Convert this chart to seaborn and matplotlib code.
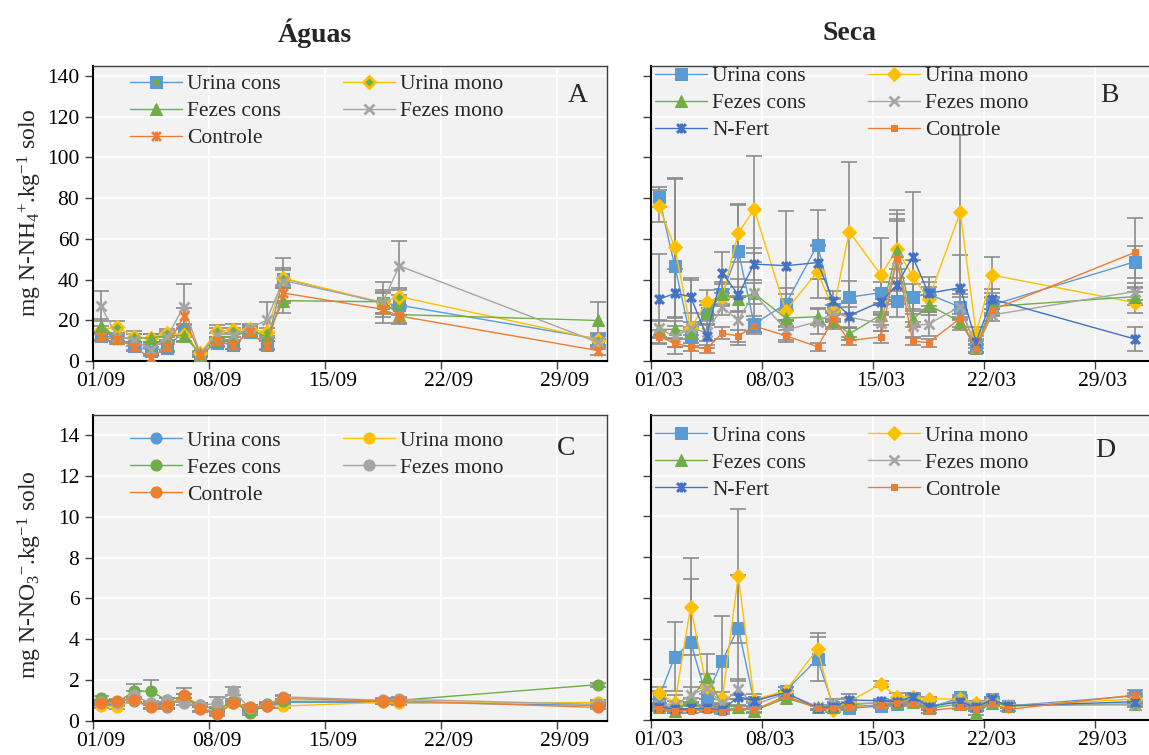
import pandas as pd
import matplotlib
matplotlib.use("Agg")
import matplotlib.pyplot as plt
import seaborn as sns
from matplotlib.path import Path

# datas de coleta
datas_aguas = ["01/09", "02/09", "03/09", "04/09", "05/09", "06/09", "07/09", "08/09",
               "09/09", "10/09", "11/09", "12/09", "18/09", "19/09", "01/10"]
datas_seca_nh4 = ["01/03", "02/03", "03/03", "04/03", "05/03", "06/03", "07/03", "09/03",
                  "11/03", "12/03", "13/03", "15/03", "16/03", "17/03", "18/03", "20/03",
                  "21/03", "22/03", "31/03"]
datas_seca_no3 = ["01/03", "02/03", "03/03", "04/03", "05/03", "06/03", "07/03", "09/03",
                  "11/03", "12/03", "13/03", "15/03", "16/03", "17/03", "18/03", "20/03",
                  "21/03", "22/03", "23/03", "31/03"]

# A - NH4 aguas
nh4_aguas = {
    "Urina cons": [12.4, 11.5, 7.3, 5.1, 6.4, 14.9, 2.9, 9.0, 8.1, 14.0, 7.8, 40.5, 28.4, 27.4, 10.8],
    "Urina mono": [15.4, 16.8, 11.6, 11.3, 13.8, 13.0, 3.8, 14.6, 15.0, 15.8, 14.1, 40.7, 28.7, 31.6, 10.5],
    "Fezes cons": [17.4, 11.3, 11.3, 11.3, 12.5, 12.5, 3.5, 11.8, 11.8, 15.4, 11.8, 29.6, 29.1, 22.8, 19.9],
    "Fezes mono": [27.1, 11.8, 10.5, 5.5, 11.8, 26.7, 3.5, 13.0, 13.0, 16.0, 20.1, 39.5, 28.7, 46.7, 9.1],
    "Controle": [11.8, 10.5, 7.1, 1.3, 7.1, 22.1, 3.0, 9.6, 8.0, 14.1, 7.6, 33.4, 25.4, 22.1, 5.1],
}
nh4_aguas_erro = {
    "Urina cons": [2, 2, 2, 2, 2, 3, 1, 2, 2, 2, 2, 4, 5, 5, 3],
    "Urina mono": [2, 3, 3, 2, 2, 3, 1, 3, 3, 2, 2, 5, 5, 4, 3],
    "Fezes cons": [3, 2, 2, 2, 2, 3, 1, 2, 2, 2, 2, 6, 6, 4, 9],
    "Fezes mono": [7.5, 2, 3, 3, 2, 11, 1, 3, 3, 2, 9, 11, 10, 12, 3],
    "Controle": [2, 2, 2, 2, 2, 4, 1, 2, 2, 2, 2, 4, 4, 4, 2],
}

# B - NH4 seca
nh4_seca = {
    "Urina cons": [80.4, 46.6, 11.6, 23.7, 32.9, 54.2, 18.2, 28.0, 57.1, 25.4, 31.3, 33.6, 29.6, 31.6, 32.9, 26.4, 7.0, 27.5, 48.7],
    "Urina mono": [76.1, 55.8, 16.0, 29.0, 31.3, 62.7, 74.6, 24.7, 43.9, 25.0, 63.5, 42.2, 54.8, 41.7, 30.3, 73.0, 13.6, 42.2, 28.7],
    "Fezes cons": [15.5, 15.5, 13.9, 23.7, 32.9, 30.3, 33.2, 21.0, 21.8, 19.8, 13.3, 22.6, 54.2, 20.5, 27.5, 19.3, 6.2, 26.7, 31.6],
    "Fezes mono": [16.0, 12.0, 16.0, 14.0, 26.4, 20.1, 33.2, 15.2, 19.3, 23.7, 21.5, 18.5, 50.0, 17.2, 18.2, 26.7, 6.2, 22.6, 34.1],
    "N-Fert": [30.3, 33.2, 31.6, 12.3, 43.4, 32.4, 47.6, 46.8, 48.3, 29.6, 22.3, 29.1, 37.3, 51.2, 33.2, 36.0, 9.5, 30.4, 10.8],
    "Controle": [12.0, 8.7, 7.0, 6.1, 13.6, 12.3, 17.2, 12.4, 7.0, 20.5, 10.0, 11.9, 49.9, 9.8, 9.0, 20.9, 5.7, 25.0, 53.3],
}
nh4_seca_erro = {
    "Urina cons": [5, 43, 4, 6, 6, 23, 4, 8, 17, 5, 8, 5, 8, 6, 6, 5, 3, 4, 8],
    "Urina mono": [8, 34, 25, 6, 4, 14, 26, 8, 13, 6, 34, 18, 14, 8, 6, 38, 3, 9, 5],
    "Fezes cons": [4, 4, 3, 4, 5, 6, 5, 4, 4, 4, 3, 5, 20, 4, 5, 4, 2, 4, 4],
    "Fezes mono": [4, 5, 3, 4, 4, 12, 20, 5, 6, 4, 5, 4, 22, 6, 6, 6, 2, 3, 4],
    "N-Fert": [22, 12, 8, 6, 10, 8, 8, 27, 8, 5, 6, 6, 8, 32, 8, 16, 3, 5, 6],
    "Controle": [3, 2, 2, 2, 3, 3, 3, 3, 2, 4, 2, 3, 20, 2, 2, 4, 2, 3, 17],
}

# C - NO3 aguas
no3_aguas = {
    "Urina cons": [0.80, 0.80, 0.95, 0.70, 0.65, 1.20, 0.60, 0.40, 0.85, 0.50, 0.70, 0.90, 0.90, 0.90, 0.75],
    "Urina mono": [0.72, 0.68, 1.00, 0.70, 0.70, 1.20, 0.60, 0.50, 0.85, 0.65, 0.75, 0.72, 0.90, 0.85, 0.90],
    "Fezes cons": [1.10, 0.90, 1.45, 1.45, 1.00, 1.20, 0.75, 0.55, 0.95, 0.36, 0.80, 0.95, 0.95, 1.00, 1.77],
    "Fezes mono": [0.90, 0.85, 1.25, 0.85, 1.00, 0.85, 0.75, 0.85, 1.45, 0.60, 0.75, 1.17, 1.00, 1.05, 0.80],
    "Controle": [0.85, 0.98, 1.04, 0.68, 0.70, 1.25, 0.55, 0.33, 0.85, 0.65, 0.72, 1.09, 0.96, 0.98, 0.65],
}
no3_aguas_erro = {
    "Urina cons": [0.1] * 15,
    "Urina mono": [0.1] * 15,
    "Fezes cons": [0.1, 0.1, 0.35, 0.55, 0.1, 0.1, 0.1, 0.1, 0.1, 0.1, 0.1, 0.1, 0.1, 0.1, 0.1],
    "Fezes mono": [0.1, 0.1, 0.2, 0.1, 0.1, 0.1, 0.1, 0.3, 0.2, 0.1, 0.1, 0.1, 0.1, 0.1, 0.1],
    "Controle": [0.1, 0.1, 0.1, 0.1, 0.1, 0.35, 0.1, 0.1, 0.1, 0.1, 0.1, 0.1, 0.1, 0.1, 0.1],
}

# D - NO3 seca
no3_seca = {
    "Urina cons": [1.11, 3.11, 3.82, 1.15, 2.92, 4.54, 0.90, 1.44, 3.00, 0.66, 0.57, 0.69, 0.79, 1.07, 0.57, 1.11, 0.69, 1.02, 0.69, 1.18],
    "Urina mono": [1.34, 0.82, 5.57, 1.64, 1.07, 7.08, 1.00, 1.44, 3.49, 0.49, 0.90, 1.77, 1.15, 1.11, 1.05, 1.02, 0.82, 0.98, 0.69, 1.03],
    "Fezes cons": [0.66, 0.46, 0.98, 2.13, 0.74, 0.62, 0.46, 1.07, 0.62, 0.62, 0.74, 0.87, 0.90, 0.90, 0.57, 0.79, 0.33, 0.85, 0.70, 0.79],
    "Fezes mono": [0.74, 0.74, 1.23, 1.56, 0.82, 1.51, 0.74, 1.31, 0.66, 0.82, 0.82, 0.82, 0.90, 0.98, 0.66, 0.98, 0.74, 0.95, 0.74, 0.74],
    "N-Fert": [0.66, 0.52, 0.57, 0.57, 0.49, 1.15, 0.95, 1.34, 0.57, 0.66, 0.98, 0.95, 0.90, 1.15, 0.66, 0.90, 0.62, 1.02, 0.69, 0.90],
    "Controle": [0.52, 0.46, 0.46, 0.49, 0.41, 0.57, 0.49, 1.18, 0.57, 0.57, 0.66, 0.74, 0.85, 0.79, 0.46, 0.62, 0.52, 0.79, 0.52, 1.23],
}
no3_seca_erro = {
    "Urina cons": [0.3, 1.7, 3.1, 0.4, 2.2, 2.6, 0.2, 0.2, 1.1, 0.1, 0.1, 0.1, 0.1, 0.2, 0.1, 0.1, 0.1, 0.1, 0.1, 0.3],
    "Urina mono": [0.3, 0.4, 2.4, 0.6, 0.3, 3.3, 0.3, 0.2, 0.8, 0.1, 0.4, 0.15, 0.2, 0.2, 0.1, 0.1, 0.1, 0.1, 0.1, 0.2],
    "Fezes cons": [0.1, 0.1, 0.1, 1.1, 0.1, 0.1, 0.1, 0.1, 0.1, 0.1, 0.1, 0.1, 0.1, 0.1, 0.1, 0.1, 0.1, 0.1, 0.1, 0.1],
    "Fezes mono": [0.1, 0.2, 0.4, 0.3, 0.2, 0.5, 0.2, 0.1, 0.1, 0.2, 0.2, 0.1, 0.1, 0.2, 0.1, 0.1, 0.1, 0.1, 0.1, 0.1],
    "N-Fert": [0.1] * 20,
    "Controle": [0.1] * 20,
}

cores = {"Urina cons": "#5B9BD5", "Urina mono": "#FFC000", "Fezes cons": "#70AD47",
         "Fezes mono": "#A5A5A5", "N-Fert": "#4472C4", "Controle": "#ED7D31"}

estrela = Path([(-1, -1), (1, 1), (-1, 1), (1, -1), (0, -1.1), (0, 1.1)],
               [Path.MOVETO, Path.LINETO, Path.MOVETO, Path.LINETO, Path.MOVETO, Path.LINETO])

LW = 1.0


def estilo(nome, marker, ms, **kw):
    d = dict(color=cores[nome], lw=LW, marker=marker, markersize=ms,
             markeredgecolor=cores[nome], markerfacecolor=cores[nome])
    d.update(kw)
    return d


estilo_a = {
    "Urina cons": estilo("Urina cons", "s", 7, markerfacecolor="#70AD47", markeredgewidth=2.2),
    "Urina mono": estilo("Urina mono", "D", 6, markerfacecolor="#70AD47", markeredgewidth=2),
    "Fezes cons": estilo("Fezes cons", "^", 8),
    "Fezes mono": estilo("Fezes mono", "x", 7, markeredgewidth=2),
    "Controle": estilo("Controle", estrela, 7, markeredgewidth=2),
}
estilo_b = {
    "Urina cons": estilo("Urina cons", "s", 8),
    "Urina mono": estilo("Urina mono", "D", 7),
    "Fezes cons": estilo("Fezes cons", "^", 8.5),
    "Fezes mono": estilo("Fezes mono", "x", 7, markeredgewidth=2),
    "N-Fert": estilo("N-Fert", estrela, 7, markeredgewidth=2.2),
    "Controle": estilo("Controle", "s", 4),
}
estilo_c = {n: estilo(n, "o", 8) for n in nh4_aguas}

sns.set_style("darkgrid", {"axes.facecolor": "#F2F2F2", "grid.color": "white"})
plt.rcParams["font.family"] = ["Liberation Serif", "DejaVu Serif"]
plt.rcParams["mathtext.fontset"] = "custom"
plt.rcParams["mathtext.rm"] = "Liberation Serif"
plt.rcParams["mathtext.it"] = "Liberation Serif:italic"

FS = 15.5


def plot_painel(ax, datas, ano, valores, erros, estilos, inicio, dias, ymax, yticks,
                ordem, leg_xy, letra, letra_xy, rotulos_y=True):
    x = pd.to_datetime([f"{d}/{ano}" for d in datas], format="%d/%m/%Y") + pd.Timedelta(hours=12)
    for nome, y in valores.items():
        ax.errorbar(x, y, yerr=erros[nome], fmt="none", ecolor="#8C8C8C",
                    elinewidth=1.2, capsize=6, capthick=1.2, zorder=2)
    for nome, y in valores.items():
        sns.lineplot(x=x, y=y, ax=ax, label=nome, zorder=3, **estilos[nome])

    t0 = pd.Timestamp(f"{ano}-{inicio}")
    semanas = [t0 + pd.Timedelta(days=7 * i) for i in range(5)]
    ax.set_xticks(semanas)
    ax.set_xticklabels([])
    ax.set_xticks([s + pd.Timedelta(hours=12) for s in semanas], minor=True)
    ax.set_xticklabels([s.strftime("%d/%m") for s in semanas], minor=True)
    ax.set_xlim(t0, t0 + pd.Timedelta(days=dias))
    ax.tick_params(axis="x", which="minor", length=0, pad=8, labelsize=FS, labelcolor="black")
    ax.tick_params(axis="x", which="major", bottom=True, length=6, width=1, color="#404040")
    ax.grid(True, which="major", color="white", lw=1.3)
    ax.grid(False, which="minor")

    ax.set_ylim(0, ymax)
    ax.set_yticks(yticks)
    ax.tick_params(axis="y", left=True, length=6, width=1, color="#404040",
                   labelsize=FS, labelcolor="black", labelleft=rotulos_y)
    ax.set_xlabel("")
    ax.set_ylabel("")

    for lado, sp in ax.spines.items():
        sp.set_visible(True)
        sp.set_color("black" if lado in ("left", "bottom") else "#404040")
        sp.set_linewidth(1.5 if lado in ("left", "bottom") else 1.0)

    h, l = ax.get_legend_handles_labels()
    mapa = dict(zip(l, h))
    ax.legend([mapa[n] for n in ordem], ordem, ncol=2, loc="upper left",
              bbox_to_anchor=leg_xy, frameon=False, fontsize=FS,
              handlelength=2.4, handletextpad=0.25, columnspacing=2.9,
              labelspacing=0.32, borderpad=0, borderaxespad=0)
    ax.text(letra_xy[0], letra_xy[1], letra, transform=ax.transAxes,
            fontsize=20, ha="center", va="center")


fig = plt.figure(figsize=(11.49, 7.55), dpi=100)
W, H = 1149, 755
ax_a = fig.add_axes([92.5 / W, (H - 361) / H, 514 / W, 295.3 / H])
ax_b = fig.add_axes([651 / W, (H - 361) / H, 507.5 / W, 295.3 / H])
ax_c = fig.add_axes([92.5 / W, (H - 720.7) / H, 514 / W, 305.7 / H])
ax_d = fig.add_axes([651 / W, (H - 720) / H, 507.5 / W, 305.3 / H])

ordem5 = ["Urina cons", "Fezes cons", "Controle", "Urina mono", "Fezes mono"]
ordem6 = ["Urina cons", "Fezes cons", "N-Fert", "Urina mono", "Fezes mono", "Controle"]

plot_painel(ax_a, datas_aguas, 2016, nh4_aguas, nh4_aguas_erro, estilo_a, "09-01", 31,
            145, range(0, 141, 20), ordem5, (0.073, 0.971), "A", (0.945, 0.9))
plot_painel(ax_b, datas_seca_nh4, 2017, nh4_seca, nh4_seca_erro, estilo_b, "03-01", 32,
            145, range(0, 141, 20), ordem6, (0.008, 0.998), "B", (0.904, 0.9), False)
plot_painel(ax_c, datas_aguas, 2016, no3_aguas, no3_aguas_erro, estilo_c, "09-01", 31,
            15, range(0, 15, 2), ordem5, (0.073, 0.949), "C", (0.922, 0.892))
plot_painel(ax_d, datas_seca_no3, 2017, no3_seca, no3_seca_erro, estilo_b, "03-01", 32,
            15, range(0, 15, 2), ordem6, (0.008, 0.964), "D", (0.895, 0.884), False)

fig.text(315 / W, 1 - 33 / H, "Águas", fontsize=20, fontweight="bold", ha="center", va="center")
fig.text(849 / W, 1 - 33 / H, "Seca", fontsize=20, fontweight="bold", ha="center", va="center")
fig.text(30 / W, 1 - 213 / H, r"mg N-NH$_4$$^{+}$.kg$^{-1}$ solo", fontsize=17,
         rotation=90, ha="center", va="center")
fig.text(30 / W, 1 - 575 / H, r"mg N-NO$_3$$^{-}$.kg$^{-1}$ solo", fontsize=17,
         rotation=90, ha="center", va="center")

fig.savefig("out.png", dpi=100)
